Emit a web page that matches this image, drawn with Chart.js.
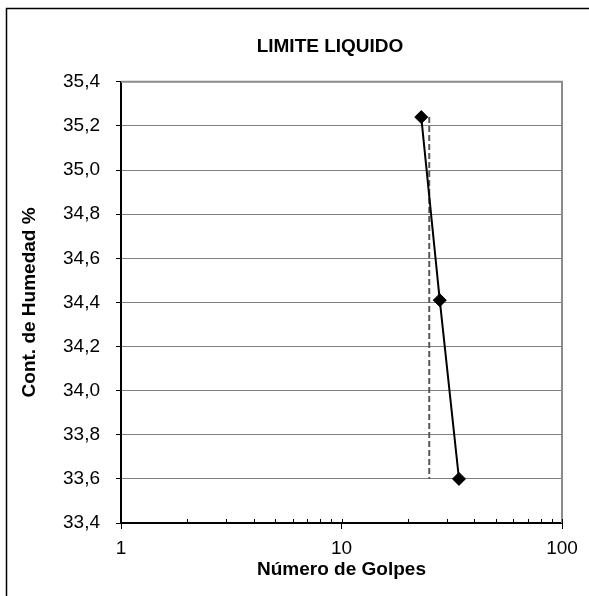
<!DOCTYPE html>
<html>
<head>
<meta charset="utf-8">
<script src="https://cdn.jsdelivr.net/npm/chart.js@4/dist/chart.umd.min.js"></script>
<style>
  html, body { margin: 0; padding: 0; background: #ffffff; }
  #wrap { width: 589px; height: 596px; position: relative; }
</style>
</head>
<body>
<div id="wrap"><canvas id="c"></canvas></div>
<script>
// ---- data ----
const golpes = [23.0, 27.9, 34.1];          // Número de Golpes
const humedad = [35.24, 34.41, 33.60];      // Cont. de Humedad %
const guideX = [25, 25];                    // vertical dashed guide at 25 blows
const guideY = [35.24, 33.60];
const xTickValues = [1, 10, 100];
const yTickValues = [33.4, 33.6, 33.8, 34.0, 34.2, 34.4, 34.6, 34.8, 35.0, 35.2, 35.4];
const chartTitle = 'LIMITE LIQUIDO';
const xTitle = 'Número de Golpes';
const yTitle = 'Cont. de Humedad %';

const FONT = "'Liberation Sans', Arial, sans-serif";

const decor = {
  id: 'decor',
  beforeDraw(chart) {
    const ctx = chart.ctx;
    ctx.save();
    ctx.fillStyle = '#ffffff';
    ctx.fillRect(0, 0, chart.width, chart.height);
    // outer chart frame (left & top visible)
    ctx.strokeStyle = '#000000';
    ctx.lineWidth = 1.5;
    ctx.beginPath();
    ctx.moveTo(6.5, chart.height);
    ctx.lineTo(6.5, 8.5);
    ctx.lineTo(chart.width, 8.5);
    ctx.stroke();
    ctx.restore();
  },
  beforeDatasetsDraw(chart) {
    const ctx = chart.ctx;
    const a = chart.chartArea;
    const xs = chart.scales.x;
    ctx.save();
    // plot area top/right border (grey)
    ctx.strokeStyle = '#8c8c8c';
    ctx.lineWidth = 2;
    ctx.beginPath();
    ctx.moveTo(a.left, a.top);
    ctx.lineTo(a.right, a.top);
    ctx.lineTo(a.right, a.bottom);
    ctx.stroke();
    // minor ticks pointing up inside the plot
    ctx.strokeStyle = '#000000';
    ctx.lineWidth = 1;
    ctx.beginPath();
    for (let d = 1; d < 100; d *= 10) {
      for (let m = 2; m <= 10; m++) {
        const px = Math.round(xs.getPixelForValue(m * d)) + 0.5;
        ctx.moveTo(px, a.bottom);
        ctx.lineTo(px, a.bottom - 4);
      }
    }
    ctx.stroke();
    ctx.restore();
  }
};

new Chart(document.getElementById('c'), {
  type: 'scatter',
  data: {
    datasets: [
      {
        data: guideX.map((x, i) => ({ x: x, y: guideY[i] })),
        showLine: true,
        borderColor: '#595959',
        borderWidth: 2,
        borderDash: [6, 3],
        pointRadius: 0,
        order: 2
      },
      {
        data: golpes.map((x, i) => ({ x: x, y: humedad[i] })),
        showLine: true,
        borderColor: '#000000',
        borderWidth: 2,
        pointStyle: 'rectRot',
        pointRadius: 6.5,
        pointBackgroundColor: '#000000',
        pointBorderColor: '#000000',
        pointBorderWidth: 1,
        order: 1
      }
    ]
  },
  options: {
    responsive: true,
    maintainAspectRatio: false,
    devicePixelRatio: 1,
    animation: false,
    layout: { padding: { left: 0, right: -71, top: 0, bottom: 0 } },
    plugins: {
      legend: { display: false },
      tooltip: { enabled: false },
      title: {
        display: true,
        text: chartTitle,
        color: '#000000',
        font: { family: FONT, size: 19, weight: 'bold' },
        padding: { top: 35, bottom: 24 }
      }
    },
    scales: {
      x: {
        type: 'logarithmic',
        position: 'bottom',
        min: 1,
        max: 100,
        afterBuildTicks(scale) { scale.ticks = xTickValues.map(v => ({ value: v, major: true })); },
        afterFit(scale) { scale.height = 73; },
        ticks: {
          color: '#000000',
          font: { family: FONT, size: 19 },
          padding: 8,
          autoSkip: false,
          maxRotation: 0,
          callback: (v) => String(v)
        },
        grid: {
          drawOnChartArea: false,
          drawTicks: true,
          tickLength: 6,
          tickColor: '#000000',
          tickWidth: 1
        },
        border: { display: true, color: '#000000', width: 2 },
        title: {
          display: true,
          text: xTitle,
          color: '#000000',
          font: { family: FONT, size: 19, weight: 'bold' },
          padding: { top: 0, bottom: 15 }
        }
      },
      y: {
        type: 'linear',
        position: 'left',
        min: 33.4,
        max: 35.4,
        afterBuildTicks(scale) { scale.ticks = yTickValues.map(v => ({ value: v })); },
        afterFit(scale) { scale.width = 121; },
        ticks: {
          color: '#000000',
          font: { family: FONT, size: 19 },
          padding: 16,
          autoSkip: false,
          callback: (v) => Number(v).toFixed(1).replace('.', ',')
        },
        grid: {
          color: '#7f7f7f',
          lineWidth: 1,
          drawTicks: true,
          tickLength: 5,
          tickColor: '#000000'
        },
        border: { display: true, color: '#000000', width: 2 },
        title: {
          display: true,
          text: yTitle,
          color: '#000000',
          font: { family: FONT, size: 19, weight: 'bold' },
          padding: { top: 18, bottom: 0 }
        }
      },
      yR: {
        type: 'linear',
        position: 'right',
        display: true,
        afterFit(scale) { scale.width = 98; },
        ticks: { display: false },
        grid: { display: false, drawTicks: false },
        border: { display: false },
        title: { display: false }
      }
    }
  },
  plugins: [decor]
});
</script>
</body>
</html>
